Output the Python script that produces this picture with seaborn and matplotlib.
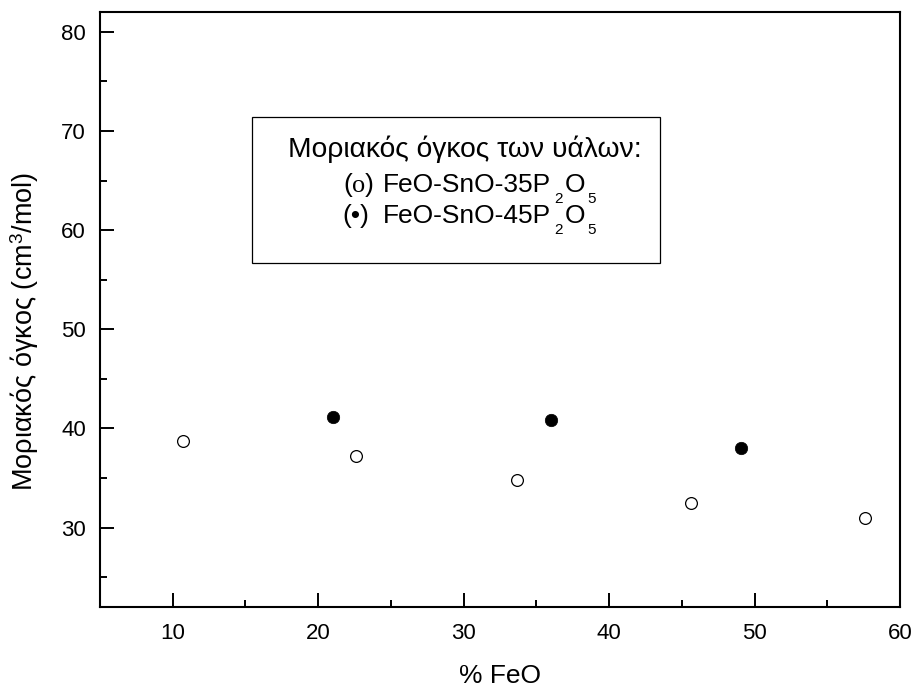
import matplotlib
matplotlib.use("Agg")
import matplotlib.pyplot as plt
from matplotlib.patches import Rectangle
from matplotlib.ticker import MultipleLocator
from matplotlib.transforms import IdentityTransform
import seaborn as sns
import pandas as pd

# Data
feo_35 = [10.7, 22.6, 33.7, 45.6, 57.6]
vm_35 = [38.7, 37.2, 34.8, 32.45, 31.0]
feo_45 = [21.0, 36.0, 49.1]
vm_45 = [41.2, 40.85, 38.0]

x_ticks = [10, 20, 30, 40, 50, 60]
y_ticks = [30, 40, 50, 60, 70, 80]

sns.set_theme(style="white")
plt.rcParams['font.family'] = ['Liberation Sans', 'DejaVu Sans']
plt.rcParams['mathtext.fontset'] = 'custom'
plt.rcParams['mathtext.rm'] = 'Liberation Sans'
plt.rcParams['mathtext.it'] = 'Liberation Serif'
plt.rcParams['mathtext.bf'] = 'Liberation Sans:bold'

fig = plt.figure(figsize=(9.17, 6.90), dpi=100)
ax = fig.add_axes([0.109, 0.1203, 0.8725, 0.8623])

df35 = pd.DataFrame({"x": feo_35, "y": vm_35})
df45 = pd.DataFrame({"x": feo_45, "y": vm_45})

sns.scatterplot(data=df35, x="x", y="y", ax=ax, marker="o", s=72,
                facecolor="white", edgecolor="black", linewidth=0.9, zorder=3)
sns.scatterplot(data=df45, x="x", y="y", ax=ax, marker="o", s=80,
                color="black", edgecolor="black", linewidth=0.5, zorder=3)

ax.set_xlim(5, 60)
ax.set_ylim(22, 82)
ax.set_xticks(x_ticks)
ax.set_yticks(y_ticks)
ax.xaxis.set_minor_locator(MultipleLocator(5))
ax.yaxis.set_minor_locator(MultipleLocator(5))
ax.tick_params(axis='both', which='major', direction='in', length=10, width=1.4,
               labelsize=16, color='black', labelcolor='black',
               top=False, right=False, bottom=True, left=True)
ax.tick_params(axis='x', which='major', pad=11.5)
ax.tick_params(axis='y', which='major', pad=10)
ax.tick_params(axis='both', which='minor', direction='in', length=5, width=1.4,
               color='black', top=False, right=False, bottom=True, left=True)
for sp in ax.spines.values():
    sp.set_color('black')
    sp.set_linewidth(1.5)
    sp.set_visible(True)

ax.set_xlabel("% FeO", fontsize=19, color='black')
ax.xaxis.set_label_coords(0.5, -0.095)
ax.set_ylabel("Μοριακός όγκος (cm$^3$/mol)", fontsize=19.5, color='black')
ax.yaxis.set_label_coords(-0.074, 0.463)

ax.add_patch(Rectangle((0.19, 0.578), 0.51, 0.2455, transform=ax.transAxes,
                       fill=False, edgecolor='black', linewidth=0.9, zorder=4))
ax.text(0.235, 0.757, "Μοριακός όγκος των υάλων:", transform=ax.transAxes,
        fontsize=20.3, ha='left', va='baseline', color='black')

renderer = fig.canvas.get_renderer()


def text_run(x_ax, y_ax, pieces, gap=2.5):
    xd, yd = ax.transAxes.transform((x_ax, y_ax))
    for s, size, dy in pieces:
        t = fig.text(xd, yd + dy, s, fontsize=size, ha='left', va='baseline',
                     color='black', transform=IdentityTransform())
        bb = t.get_window_extent(renderer)
        xd = bb.x1 + gap


for prefix, formula, yline in [("($o$)", "FeO-SnO-35P", 0.698),
                               ("(•)", "FeO-SnO-45P", 0.645)]:
    text_run(0.3034, yline, [(prefix, 19, 0)])
    text_run(0.354, yline, [(formula, 19, 0), ("2", 11, -11),
                            ("O", 19, 0), ("5", 11, -11)])

fig.savefig("out.png", dpi=100)
